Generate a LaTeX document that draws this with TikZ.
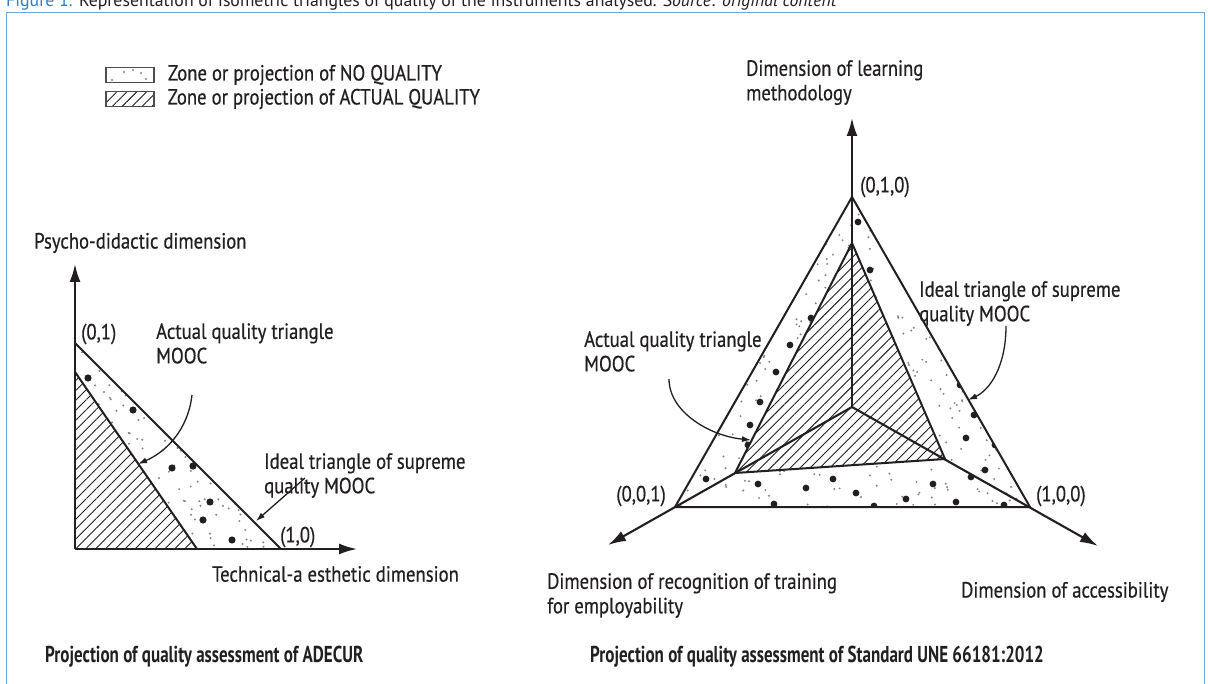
\documentclass[tikz,border=0pt]{standalone}
\usepackage{fontspec}
\setmainfont{PT Sans}[FakeStretch=0.85, FakeBold=0.5]
\newfontfamily\capfont{PT Sans}
\newfontfamily\ttlfont{PT Sans}[FakeStretch=0.74]
\usetikzlibrary{arrows.meta,positioning,patterns.meta,calc}
\definecolor{frameblue}{HTML}{6FA3D6}
\definecolor{capblue}{HTML}{2F80C8}
\definecolor{inkgrey}{HTML}{231F20}

\begin{document}
\begin{tikzpicture}[
x=1pt, y=-1pt,
lbl/.style={font=\fontsize{22}{24.5}\selectfont, text=inkgrey, inner sep=0pt, align=left},
ttl/.style={font=\ttlfont\bfseries\fontsize{23}{25}\selectfont, text=inkgrey, inner sep=0pt},
axis/.style={draw=inkgrey, line width=2.1pt, -{Latex[length=18pt,width=11pt]}},
edge/.style={draw=inkgrey, line width=2pt},
hatch/.style={pattern={Lines[angle=45,distance=7pt,line width=0.9pt]}, pattern color=inkgrey},
pointer/.style={draw=inkgrey, line width=1.3pt, -{Latex[length=9pt,width=6pt]}},
speck/.style={fill=inkgrey!55},
blob/.style={fill=inkgrey}
]
\useasboundingbox (0,0) rectangle (1208,684);
\draw [frameblue, line width=1pt, fill=white] (6,13) rectangle (1204,700);
\node (caption) [anchor=base west, inner sep=0pt, font=\capfont\fontsize{17.8}{20}\selectfont, text=inkgrey]
  at (6,7) {\textcolor{capblue}{Figure 1.} Representation of isometric triangles of quality of the instruments analysed. \textit{Source: original content}};

% legend
\node (keyno) [draw=inkgrey!80, line width=1.6pt, minimum width=48pt, minimum height=15pt, inner sep=0pt] at (130,75) {};
\foreach \dx/\dy in {112/80, 124/72, 133/70, 141/73, 146/79} \fill [speck] (\dx,\dy) circle (1.1);
\node (keyact) [draw=inkgrey!80, line width=1.6pt, minimum width=48pt, minimum height=15pt, inner sep=0pt, hatch] at (130,99) {};
\node (keynotxt) [lbl, right=13pt of keyno] {Zone or projection of NO QUALITY};
\node (keyacttxt) [lbl, right=13pt of keyact] {Zone or projection of ACTUAL QUALITY};

% ADECUR projection
\coordinate (lo) at (75,549);
\coordinate (ly) at (75,264);
\coordinate (lx) at (357,549);
\coordinate (l01) at (75,343);
\coordinate (l10) at (281,549);
\coordinate (lha) at (75,372);
\coordinate (lhb) at (197,549);
\pgfmathsetseed{11}
\begin{scope}
\clip (l01) -- (l10) -- (lhb) -- (lha) -- cycle;
\foreach \k in {1,...,260} {
  \pgfmathsetmacro\px{75+206*rnd}
  \pgfmathsetmacro\py{343+206*rnd}
  \fill [speck] (\px,\py) circle (1.1);
}
\foreach \bx/\by in {88/378, 133/410, 172/468, 193/466, 210/502, 203/520, 263/517, 232/540}
  \fill [blob] (\bx,\by) circle (3.6);
\end{scope}
\fill [hatch] (lo) -- (lha) -- (lhb) -- cycle;
\draw [edge] (lha) -- (lhb);
\draw [edge] (l01) -- (l10);
\draw [axis] (lo) -- (ly);
\draw [axis] (lo) -- (lx);
\node (lyname) [lbl, anchor=west] at (34,243) {Psycho-didactic dimension};
\node (lxname) [lbl, anchor=west] at (212,574) {Technical-a esthetic dimension};
\node (l01lbl) [lbl, anchor=west] at (81,334) {(0,1)};
\node (l10lbl) [lbl, anchor=west] at (280,537) {(1,0)};
\node (lactlbl) [lbl, anchor=north west] at (156,323) {Actual quality triangle\\MOOC};
\node (lideallbl) [lbl, anchor=north west] at (264,453) {Ideal triangle of supreme\\quality MOOC};
\coordinate (lactend) at (138,464);
\coordinate (lidealend) at (256,521);
\draw [pointer] (192,395) .. controls (188,430) and (166,452) .. (lactend);
\draw [pointer] (305,478) -- (lidealend);
\node (ltitle) [ttl, anchor=west] at (45,657) {Projection of quality assessment of ADECUR};

% UNE 66181 projection
\coordinate (ro) at (852,407);
\coordinate (r010) at (852,197);
\coordinate (r001) at (675,507);
\coordinate (r100) at (1030,507);
\coordinate (rup) at (852,118);
\coordinate (rleft) at (608,545);
\coordinate (rright) at (1098,546);
\coordinate (rit) at (852,243);
\coordinate (ril) at (735,473);
\coordinate (rir) at (945,459);
\begin{scope}[even odd rule]
\clip (r001) -- (r010) -- (r100) -- cycle (ril) -- (rit) -- (rir) -- cycle;
\foreach \k in {1,...,480} {
  \pgfmathsetmacro\px{675+355*rnd}
  \pgfmathsetmacro\py{197+310*rnd}
  \fill [speck] (\px,\py) circle (1.1);
}
\foreach \bx/\by in {858/222, 869/215, 852/258, 834/290, 811/318, 790/345, 776/372, 760/402,
  750/425, 748/445, 754/462, 706/479, 758/484, 774/504, 806/488, 833/479, 856/493, 874/506,
  906/499, 933/484, 956/502, 971/477, 1004/505, 985/470, 995/445, 958/372, 960/385, 974/415,
  985/410, 966/438, 870/270}
  \fill [blob] (\bx,\by) circle (3.4);
\end{scope}
\fill [hatch] (ril) -- (rit) -- (rir) -- cycle;
\draw [edge] (ril) -- (rit) -- (rir) -- cycle;
\draw [edge] (r001) -- (r010) -- (r100) -- cycle;
\draw [axis] (ro) -- (rup);
\draw [axis] (ro) -- (rleft);
\draw [axis] (ro) -- (rright);
\node (rupname) [lbl, anchor=north west] at (746,60) {Dimension of learning\\methodology};
\node (rleftname) [lbl, anchor=north west] at (547,573) {Dimension of recognition of training\\for employability};
\node (rrightname) [lbl, anchor=west] at (961,592) {Dimension of accessibility};
\node (r010lbl) [lbl, anchor=west] at (860,187) {(0,1,0)};
\node (r001lbl) [lbl, anchor=east] at (666,496) {(0,0,1)};
\node (r100lbl) [lbl, anchor=west] at (1036,496) {(1,0,0)};
\node (rideallbl) [lbl, anchor=north west] at (919,281) {Ideal triangle of supreme\\quality MOOC};
\node (ractlbl) [lbl, anchor=north west] at (584,331) {Actual quality triangle\\MOOC};
\coordinate (ridealend) at (968,400);
\coordinate (ractend) at (751,440);
\draw [pointer] (1006,326) .. controls (1006,366) and (990,390) .. (ridealend);
\draw [pointer] (669,379) .. controls (669,412) and (710,436) .. (ractend);
\node (rtitle) [ttl, anchor=west] at (590,657) {Projection of quality assessment of Standard UNE 66181:2012};
\end{tikzpicture}
\end{document}
